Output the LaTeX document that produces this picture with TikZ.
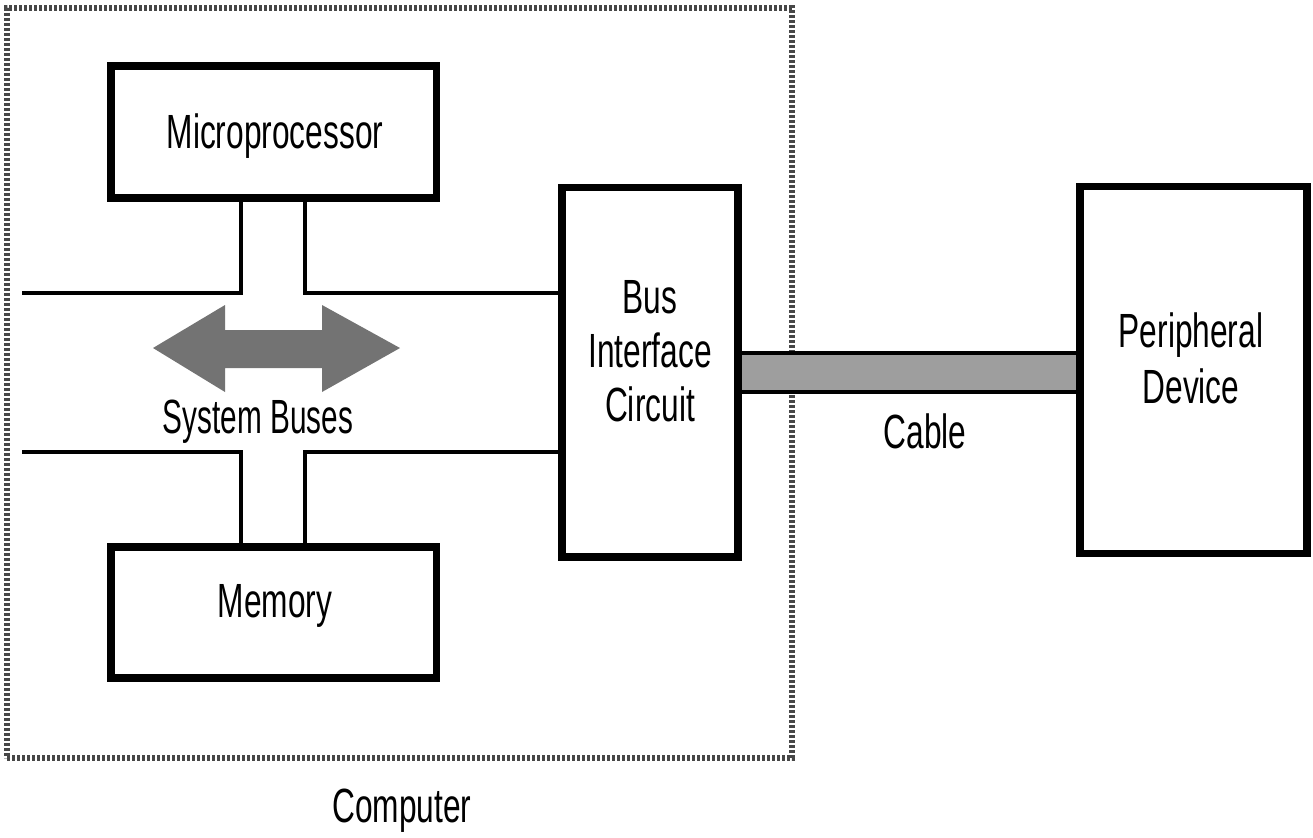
\documentclass[tikz,border=0pt]{standalone}
\usepackage{fontspec}
\setmainfont{Liberation Sans}
\usepackage{graphicx}
\newcommand{\sq}[1]{\scalebox{0.66}[1]{#1}}
\begin{document}
\begin{tikzpicture}[x=0.5pt,y=-0.5pt,
  box/.style={draw,line width=3.75pt,inner sep=0pt,outer sep=0pt,line join=miter},
  bus/.style={line width=2pt,line join=miter},
  lbl/.style={font=\fontsize{24}{28}\selectfont,inner sep=0pt,anchor=base},
  compborder/.style={draw=black!72,line width=3pt,dash pattern=on 1.4pt off 1.1pt},
  cablefill/.style={fill=black!38},
  arrowfill/.style={fill=black!55}]
\useasboundingbox (0,0) rectangle (1313,837);
% computer enclosure
\node[compborder,inner sep=0pt,minimum width=392.5pt,minimum height=375pt] (comp) at (399.5,383) {};
% boxes
\node[box,minimum width=162.75pt,minimum height=66pt] (mp) at (273.75,132) {};
\node[box,minimum width=162.75pt,minimum height=65.5pt] (mem) at (273.75,612.5) {};
\node[box,minimum width=88pt,minimum height=184.75pt] (bic) at (650,372.25) {};
\node[box,minimum width=113.5pt,minimum height=183.5pt] (per) at (1193.5,370) {};
% cable
\coordinate (ct) at (0,353);
\coordinate (cb) at (0,392);
\fill[cablefill] (bic.east |- ct) rectangle (per.west |- cb);
\draw[line width=2pt] (bic.east |- ct) -- (per.west |- ct);
\draw[line width=2pt] (bic.east |- cb) -- (per.west |- cb);
\node[box,minimum width=88pt,minimum height=184.75pt] at (bic) {};
\node[box,minimum width=113.5pt,minimum height=183.5pt] at (per) {};
% system buses
\coordinate (ul) at (22,293);
\coordinate (ua) at (241,293);
\coordinate (ub) at (305,293);
\coordinate (ll) at (22,452);
\coordinate (la) at (241,452);
\coordinate (lb) at (305,452);
\draw[bus] (ul) -- (ua) -- (ua |- mp.south);
\draw[bus] (ub |- mp.south) -- (ub) -- (bic.west |- ub);
\draw[bus] (ll) -- (la) -- (la |- mem.north);
\draw[bus] (lb |- mem.north) -- (lb) -- (bic.west |- lb);
% double arrow
\fill[arrowfill] (153,348) -- (225,305) -- (225,330) -- (322,330) -- (322,305) -- (400,348)
  -- (322,392) -- (322,368) -- (225,368) -- (225,392) -- cycle;
% labels
\node[lbl] (tmp) at (275,148) {\sq{Microprocessor}};
\node[lbl] (tmem) at (275,617) {\sq{Memory}};
\node[lbl] (tbic1) at (650,313) {\sq{Bus}};
\node[lbl] (tbic2) at (650,367) {\sq{Interface}};
\node[lbl] (tbic3) at (650,421) {\sq{Circuit}};
\node[lbl] (tper1) at (1191,347) {\sq{Peripheral}};
\node[lbl] (tper2) at (1191,403) {\sq{Device}};
\node[lbl] (tcab) at (925,448) {\sq{Cable}};
\node[lbl] (tsys) at (258,433) {\scalebox{0.62}[1]{System Buses}};
\node[lbl] (tcomp) at (402,822) {\sq{Computer}};
\end{tikzpicture}
\end{document}
